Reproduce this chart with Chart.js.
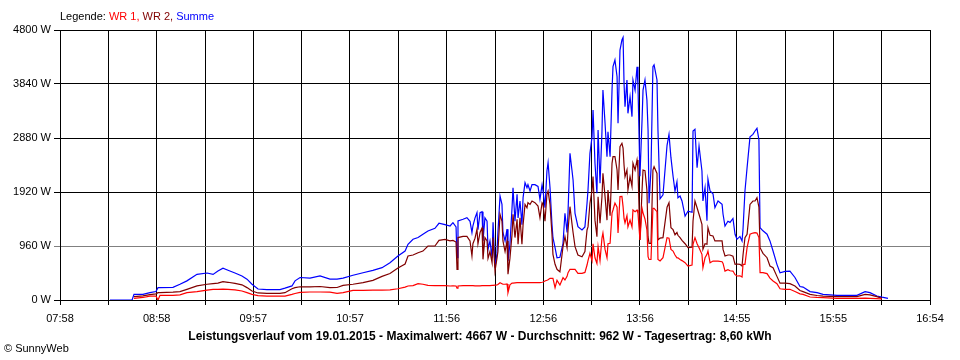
<!DOCTYPE html>
<html>
<head>
<meta charset="utf-8">
<script src="https://cdn.jsdelivr.net/npm/chart.js@4.4.0/dist/chart.umd.min.js"></script>
<style>
  html, body { margin: 0; padding: 0; background: #fff; }
  #box { width: 960px; height: 360px; position: relative; }
</style>
</head>
<body>
<div id="box"><canvas id="leistung"></canvas></div>
<script>
// Uhrzeit in Minuten seit Mitternacht
const zeiten = [
  508.8, 522.4, 523.6, 529.1, 533.4, 537.1, 538.4, 539.6, 547.6, 551.9,
  556.2, 562.4, 568.6, 572.3, 575.3, 578.4, 581.5, 585.8, 590.1, 593.2,
  596.3, 600.0, 605.5, 613.5, 616.6, 620.9, 622.8, 625.9, 632.0, 638.2,
  644.3, 648.7, 652.4, 658.5, 664.7, 670.8, 676.4, 681.3, 686.2, 690.6,
  692.4, 695.5, 698.6, 701.6, 704.7, 709.0, 711.5, 715.2, 718.3, 720.1,
  722.0, 722.6, 723.2, 726.3, 728.7, 730.6, 731.8, 732.4, 733.7, 734.9,
  735.5, 736.8, 738.0, 738.6, 739.8, 741.1, 741.7, 742.9, 744.2, 744.8,
  746.0, 747.2, 747.8, 749.1, 750.3, 750.9, 752.2, 753.4, 754.0, 755.2,
  756.5, 757.1, 758.3, 759.6, 760.2, 761.4, 762.6, 763.3, 764.5, 765.7,
  766.3, 767.6, 768.8, 770.6, 772.5, 773.7, 775.0, 775.6, 776.8, 778.0,
  778.7, 779.9, 781.1, 781.7, 783.0, 784.2, 786.0, 787.9, 789.1, 790.4,
  791.0, 792.2, 793.4, 794.1, 795.3, 797.1, 799.6, 801.4, 802.7, 803.3,
  804.5, 805.8, 806.4, 807.6, 808.8, 809.5, 810.7, 811.9, 812.5, 813.8,
  815.0, 815.6, 816.9, 818.1, 818.7, 819.9, 821.2, 821.8, 823.0, 824.2,
  824.9, 825.5, 826.1, 827.3, 827.9, 829.2, 830.4, 831.0, 832.3, 833.5,
  834.1, 835.3, 836.6, 837.2, 838.4, 839.6, 840.3, 840.9, 842.1, 843.3,
  844.0, 845.8, 846.4, 847.7, 849.5, 852.0, 853.2, 854.4, 855.7, 856.9,
  858.1, 858.7, 860.0, 861.2, 863.1, 864.9, 867.4, 868.0, 869.2, 870.5,
  871.7, 873.5, 874.1, 875.4, 876.6, 877.2, 878.5, 880.3, 881.5, 883.4,
  885.9, 886.5, 887.7, 889.5, 890.8, 892.6, 893.9, 895.1, 896.9, 898.2,
  898.8, 900.0, 901.3, 903.1, 904.9, 906.2, 907.4, 908.6, 909.3, 911.1,
  913.6, 915.4, 917.3, 919.7, 921.6, 924.7, 927.7, 930.8, 933.9, 935.8,
  940.1, 944.4, 948.1, 956.7, 969.0, 974.0, 977.0, 981.3, 984.4, 988.1
];

// WR 1 (rot)
const wr1 = [
  null, null, 30, 45, 70, 70, 0, 83, 83, 90,
  130, 148, 175, 190, 190, 195, 190, 180, 160, 130,
  100, 77, 70, 70, 70, 100, 115, 135, 142, 142,
  140, 118, 130, 172, 172, 175, 175, 180, 200, 230,
  249, 255, 290, 280, 260, 255, 255, 255, 249, 250,
  249, 210, 249, 255, 255, 255, 255, 255, 250, 250,
  250, 250, 255, 255, 255, 255, 255, 255, 260, 260,
  265, 270, 275, 308, 290, 280, 280, 285, 130, 270,
  300, 300, 305, 308, 308, 308, 308, 308, 310, 310,
  310, 310, 310, 310, 310, 310, 315, 320, 338, 350,
  360, 385, 385, 385, 220, 350, 267, 397, 356, 420,
  485, 546, 546, 546, 546, 475, 475, 490, 622, 700,
  830, 700, 1000, 750, 650, 950, 700, 1100, 1190, 900,
  750, 1000, 1008, 1546, 1600, 1724, 1650, 1190, 1837, 1840,
  1659, 1450, 1369, 1500, 1300, 1420, 1300, 1600, 1570, 1600,
  1540, 1067, 1630, 1550, 1440, 1245, 770, 720, 720, 1630,
  1630, 1570, 720, 693, 752, 1108, 1100, 900, 870, 800,
  750, 750, 720, 700, 663, 604, 620, 990, 1108, 1000,
  930, 812, 574, 750, 812, 871, 663, 693, 690, 690,
  680, 650, 515, 540, 520, 515, 450, 427, 430, 410,
  634, 634, 930, 1168, 1190, 1197, 1190, 1110, 485, 485,
  470, 390, 338, 290, 200, 190, 190, 150, 110, 100,
  53, 45, 41, 30, 30, 35, 30, 25, 18, null
];

// WR 2 (dunkelrot)
const wr2 = [
  null, null, 60, 75, 95, 110, 130, 130, 140, 150,
  190, 250, 280, 290, 300, 326, 315, 295, 270, 220,
  160, 125, 118, 118, 130, 200, 220, 235, 235, 240,
  220, 222, 260, 280, 310, 350, 420, 470, 570, 640,
  782, 800, 841, 870, 960, 960, 1061, 1079, 1050, 1060,
  1030, 546, 1110, 1130, 1130, 1050, 782, 1000, 1100, 1257,
  1000, 1200, 1280, 723, 1110, 1050, 740, 860, 663, 1110,
  515, 740, 860, 1524, 1400, 1050, 860, 1050, 457, 740,
  1168, 1524, 1110, 1435, 990, 1460, 990, 1340, 1700, 1640,
  1730, 1700, 1760, 1730, 1670, 1463, 1730, 1700, 1400, 1879,
  1938, 1700, 1168, 812, 634, 546, 500, 948, 1126, 930,
  1245, 1659, 1363, 1200, 948, 800, 770, 860, 1245, 1300,
  1719, 1956, 2193, 1420, 1126, 1837, 1363, 1837, 2252, 1837,
  1420, 1956, 1500, 2430, 2548, 2548, 2311, 1956, 2726, 2786,
  2700, 2400, 2193, 2311, 1956, 2193, 2020, 2430, 2311, 2489,
  2311, 1067, 1956, 2311, 2300, 1956, 1126, 1008, 1008, 2311,
  2370, 2250, 1067, 1100, 1108, 1650, 1730, 1286, 1250, 1160,
  1200, 1150, 1108, 1060, 1000, 930, 940, 1404, 1760, 1640,
  1524, 1346, 900, 1000, 990, 1286, 1150, 1138, 1050, 1050,
  1050, 900, 782, 800, 800, 780, 634, 640, 634, 604,
  800, 1108, 1168, 1700, 1760, 1760, 1819, 1650, 930, 830,
  752, 604, 574, 420, 300, 300, 290, 250, 170, 148,
  100, 80, 70, 60, 60, 100, 90, 60, 30, null
];

// Summe (blau)
const summe = [
  0, 0, 100, 100, 130, 150, 220, 220, 225, 280,
  340, 457, 480, 455, 515, 565, 530, 480, 427, 370,
  280, 195, 185, 185, 210, 250, 340, 400, 390, 427,
  370, 370, 390, 440, 485, 527, 575, 663, 782, 871,
  990, 1079, 1110, 1168, 1227, 1275, 1364, 1340, 1316, 1375,
  1300, 752, 1404, 1435, 1463, 1400, 1197, 1320, 1460, 1552,
  1250, 1552, 1570, 1050, 1460, 1400, 900, 1050, 752, 1380,
  574, 820, 1200, 1849, 1700, 1200, 1050, 1260, 693, 990,
  1641, 1997, 1400, 1879, 1460, 1760, 1340, 1820, 2086, 1997,
  2050, 1938, 2050, 2050, 2020, 1790, 2050, 1940, 1641, 2293,
  2441, 1997, 1346, 1108, 930, 752, 760, 1008, 1541, 1200,
  1570, 2608, 2311, 2133, 1541, 1303, 1245, 1300, 1719, 1956,
  2608, 2904, 3378, 2430, 1897, 3022, 2075, 2990, 3733, 3141,
  2548, 2990, 2548, 3733, 4148, 4267, 3970, 3141, 4444, 4622,
  4667, 3852, 3437, 3911, 3319, 3615, 3259, 3911, 3733, 4148,
  3800, 2200, 3200, 3733, 3911, 3555, 3022, 1719, 2311, 4148,
  4180, 3911, 3022, 1800, 1870, 2750, 2945, 2530, 2200, 1938,
  2100, 1819, 1850, 1760, 1493, 1580, 1560, 3005, 3035, 2352,
  2738, 2293, 1760, 1997, 1410, 2146, 1938, 1890, 1641, 1760,
  1700, 1524, 1316, 1400, 1380, 1450, 1168, 1079, 1130, 1050,
  1257, 1938, 2352, 2900, 2945, 3005, 3052, 2850, 1286, 1230,
  1170, 1050, 871, 634, 485, 510, 515, 400, 240, 230,
  150, 130, 100, 83, 83, 148, 130, 71, 50, 30
];

const tickLabels = ['07:58', '08:58', '09:57', '10:57', '11:56', '12:56', '13:56', '14:55', '15:55', '16:54'];
const yTicks = [0, 960, 1920, 2880, 3840, 4800];
const xMin = 478, xMax = 1014;

const titelText = 'Leistungsverlauf vom 19.01.2015 - Maximalwert: 4667 W - Durchschnitt: 962 W - Tagesertrag: 8,60 kWh';
const legende = [['Legende: ', '#000000'], ['WR 1, ', '#ff0000'], ['WR 2, ', '#800000'], ['Summe', '#0000ff']];

const schrift = '"Liberation Sans", Arial, sans-serif';
Chart.defaults.font.family = schrift;
Chart.defaults.font.size = 11;
Chart.defaults.color = '#000';

function punkte(werte){
    return zeiten.map((t, i) => ({ x: t, y: werte[i] }));
}

const textPlugin = {
    id: 'texte',
    afterDraw(chart){
        const ctx = chart.ctx;
        ctx.save();
        ctx.textBaseline = 'middle';
        ctx.font = '11px ' + schrift;
        let x = 60;
        legende.forEach(([txt, farbe]) => {
            ctx.fillStyle = farbe;
            ctx.fillText(txt, x, 17);
            x += ctx.measureText(txt).width;
        });
        ctx.fillStyle = '#000';
        ctx.font = 'bold 12px ' + schrift;
        ctx.textAlign = 'center';
        ctx.fillText(titelText, 480, 337);
        ctx.font = '11px ' + schrift;
        ctx.textAlign = 'left';
        ctx.fillText('\u00a9 SunnyWeb', 4, 349);
        ctx.restore();
    }
};

new Chart(document.getElementById('leistung'), {
    type: 'line',
    data: {
        datasets: [
            { label: 'WR 1', data: punkte(wr1), borderColor: '#ff0000', borderWidth: 1.2, pointRadius: 0 },
            { label: 'WR 2', data: punkte(wr2), borderColor: '#800000', borderWidth: 1.2, pointRadius: 0 },
            { label: 'Summe', data: punkte(summe), borderColor: '#0000ff', borderWidth: 1.2, pointRadius: 0 }
        ]
    },
    options: {
        responsive: true,
        maintainAspectRatio: false,
        animation: false,
        spanGaps: false,
        layout: { padding: { top: 30, right: 30, left: 0, bottom: 0 } },
        plugins: { legend: { display: false }, tooltip: { enabled: false } },
        scales: {
            x: {
                type: 'linear',
                min: xMin,
                max: xMax,
                afterBuildTicks: s => {
                    s.ticks = [];
                    for (let i = 0; i <= 18; i++) s.ticks.push({ value: xMin + i * (xMax - xMin) / 18 });
                },
                afterFit: s => { s.height = 60; },
                ticks: {
                    autoSkip: false,
                    maxRotation: 0,
                    padding: 7,
                    callback: (v, i) => i % 2 === 0 ? tickLabels[i / 2] : ''
                },
                grid: { color: '#000', lineWidth: 1, tickLength: 5 },
                border: { color: '#000', width: 1 }
            },
            y: {
                min: 0,
                max: 4800,
                afterBuildTicks: s => { s.ticks = yTicks.map(v => ({ value: v })); },
                afterFit: s => { s.width = 60; },
                ticks: { padding: 3, callback: v => v + ' W' },
                grid: {
                    color: c => (c.tick && c.tick.value === 960) ? '#808080' : '#000',
                    lineWidth: 1,
                    tickLength: 6
                },
                border: { color: '#000', width: 1 }
            }
        }
    },
    plugins: [textPlugin]
});
</script>
</body>
</html>
